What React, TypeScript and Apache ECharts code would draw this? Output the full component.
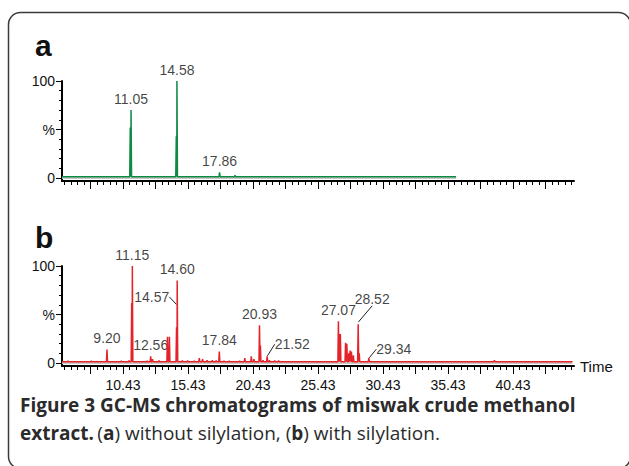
import React, { useEffect, useRef } from "react";
import * as echarts from "echarts";

// ---- axis ----
const X_MIN = 5.74;
const X_MAX = 45.12;
const xTickLabels = ["10.43", "15.43", "20.43", "25.43", "30.43", "35.43", "40.43"];
const yTickLabels = ["0", "%", "100"];
const yLabelValues = [0, 50, 100];
const yTickValues = [0, 10, 20, 30, 40, 50, 60, 70, 80, 90, 100];

// ---- panel a (without silylation) ----
const peakTimesA = [10.99, 11.05, 14.53, 14.58, 17.86, 19.05];
const peakHeightsA = [52, 70, 43, 100, 6, 3];
const runEndA = 36.05;
const labelNamesA = ["11.05", "14.58", "17.86"];
const labelTimesA = [11.05, 14.58, 17.86];
const labelHeightsA = [70, 100, 6];

// ---- panel b (with silylation) ----
const peakTimesB = [6.2, 6.9, 8.0, 9.2, 10.3, 10.9, 11.1, 11.15, 12.3, 12.56, 12.7, 13.2, 13.85, 14.0, 14.55, 14.6, 15.0, 15.4, 15.9, 16.3, 16.55, 16.9, 17.3, 17.6, 17.84, 18.2, 18.6, 19.4, 19.8, 20.3, 20.5, 20.93, 21.0, 21.2, 21.52, 21.7, 22.1, 22.4, 27.0, 27.07, 27.15, 27.55, 27.65, 27.8, 27.9, 28.0, 28.15, 28.52, 28.6, 29.34, 39.0];
const peakHeightsB = [2, 1.5, 2, 14, 2, 2.5, 62, 100, 2, 7, 4, 2.5, 27, 27, 37, 85, 2.5, 2.5, 2, 5, 4, 3, 3, 2.5, 12, 2, 2, 2, 5, 7, 4, 39, 18, 3, 7, 3, 2.5, 2.5, 43, 30, 30, 21, 20, 10, 13, 12, 8, 40, 10, 5, 3];
const runEndB = 45.0;
const labelNamesB = ["9.20", "11.15", "12.56", "14.60", "17.84", "20.93", "27.07"];
const labelTimesB = [9.2, 11.15, 12.56, 14.6, 17.84, 20.93, 27.0];
const labelHeightsB = [14, 100, 7, 85, 12, 39, 43];
const leaderNamesB = ["14.57", "21.52", "28.52", "29.34"];
const leaderTimesB = [14.57, 21.52, 28.52, 29.34];
const leaderHeightsB = [60, 7, 42, 5];

const BASE = 1.5;

const captionLine1 = "{b|Figure 3 GC-MS chromatograms of miswak crude methanol}";
const captionLine2 = "{b|extract.} {n|(}{b|a}{n|) without silylation, (}{b|b}{n|) with silylation.}";

const leaderLayout = [
  { position: "left", dx: -7, dy: -8 },
  { position: "right", dx: 7, dy: -12 },
  { position: "top", dx: 14, dy: -16 },
  { position: "right", dx: 7, dy: -9 },
];

const LABEL_FONT = '"Liberation Sans", Arial, sans-serif';
const CAPTION_FONT = '"Open Sans", "Noto Sans", sans-serif';

function buildTrace(times: number[], heights: number[], start: number, end: number, base: number) {
  const pts: number[][] = [[start, base]];
  times.forEach((t, i) => {
    pts.push([t - 0.04, base], [t, heights[i]], [t + 0.04, base]);
  });
  pts.push([end, base]);
  return pts;
}

function range(a: number, b: number, step: number) {
  const out: number[] = [];
  for (let v = a; v <= b + 1e-9; v += step) out.push(+v.toFixed(2));
  return out;
}

const minorTicks = range(5.93, 44.93, 0.5);
const majorTicks = range(7.93, 42.93, 2.5);
const xLabelValues = xTickLabels.map(Number);

export default function App() {
  const ref = useRef<HTMLDivElement>(null);
  useEffect(() => {
    if (!ref.current) return;
    const chart = echarts.init(ref.current, null, { renderer: "svg" });

    const grids = [
      { left: 62, width: 512, top: 81, height: 100 },
      { left: 62, width: 512, top: 266, height: 100 },
    ];

    const xAxes: any[] = [];
    const yAxes: any[] = [];
    [0, 1].forEach((g) => {
      xAxes.push({
        type: "value", gridIndex: g, min: X_MIN, max: X_MAX, position: "bottom",
        splitLine: { show: false },
        axisLine: { show: true, onZero: false, lineStyle: { color: "#000", width: 2 } },
        axisTick: { show: true, customValues: minorTicks, length: 4, lineStyle: { color: "#000", width: 1 } },
        axisLabel: g === 1
          ? { show: true, customValues: xLabelValues, formatter: (v: number) => v.toFixed(2), margin: 12, fontSize: 14, color: "#111", fontFamily: LABEL_FONT }
          : { show: false },
        name: g === 1 ? "Time" : "",
        nameLocation: "end", nameGap: 6,
        nameTextStyle: { fontSize: 15, color: "#111", fontFamily: LABEL_FONT },
      });
      xAxes.push({
        type: "value", gridIndex: g, min: X_MIN, max: X_MAX, position: "bottom",
        splitLine: { show: false },
        axisLine: { show: false, onZero: false },
        axisTick: { show: true, customValues: majorTicks, length: 8, lineStyle: { color: "#000", width: 1 } },
        axisLabel: { show: false },
      });
      yAxes.push({
        type: "value", gridIndex: g, min: -3, max: 100, position: "left",
        splitLine: { show: false },
        axisLine: { show: true, onZero: false, lineStyle: { color: "#000", width: 2 } },
        axisTick: { show: true, customValues: yTickValues, length: 3, lineStyle: { color: "#000", width: 1 } },
        axisLabel: {
          show: true, customValues: yLabelValues, margin: 7,
          formatter: (v: number) => yTickLabels[yLabelValues.indexOf(v)] ?? "",
          fontSize: 14, color: "#111", fontFamily: LABEL_FONT,
        },
      });
      yAxes.push({
        type: "value", gridIndex: g, min: -3, max: 100, position: "left",
        splitLine: { show: false },
        axisLine: { show: false, onZero: false },
        axisTick: { show: true, customValues: yLabelValues, length: 6, lineStyle: { color: "#000", width: 1 } },
        axisLabel: { show: false },
      });
    });

    const peakLabel = {
      show: true, position: "top", distance: 4, formatter: "{b}",
      fontSize: 14, color: "#111", fontFamily: LABEL_FONT,
    };

    const series: any[] = [
      {
        type: "line", xAxisIndex: 0, yAxisIndex: 0, symbol: "none", silent: true,
        data: [[X_MIN, 0], [runEndA, 0]], lineStyle: { color: "#c8c8c8", width: 2 },
      },
      {
        type: "line", xAxisIndex: 0, yAxisIndex: 0, symbol: "none", silent: true,
        data: buildTrace(peakTimesA, peakHeightsA, X_MIN, runEndA, BASE),
        lineStyle: { color: "#0f8a45", width: 1.5 },
      },
      {
        type: "scatter", xAxisIndex: 0, yAxisIndex: 0, symbolSize: 1,
        itemStyle: { color: "transparent" }, label: peakLabel,
        data: labelTimesA.map((t, i) => ({ name: labelNamesA[i], value: [t, labelHeightsA[i]] })),
      },
      {
        type: "line", xAxisIndex: 2, yAxisIndex: 2, symbol: "none", silent: true,
        data: [[X_MIN, 0], [runEndB, 0]], lineStyle: { color: "#c8c8c8", width: 2 },
      },
      {
        type: "line", xAxisIndex: 2, yAxisIndex: 2, symbol: "none", silent: true,
        data: buildTrace(peakTimesB, peakHeightsB, X_MIN, runEndB, BASE),
        lineStyle: { color: "#e3242b", width: 1.5 },
      },
      {
        type: "scatter", xAxisIndex: 2, yAxisIndex: 2, symbolSize: 1,
        itemStyle: { color: "transparent" }, label: peakLabel,
        data: labelTimesB.map((t, i) => ({ name: labelNamesB[i], value: [t, labelHeightsB[i]] })),
      },
      {
        type: "scatter", xAxisIndex: 2, yAxisIndex: 2, symbolSize: 1,
        itemStyle: { color: "transparent" },
        label: { ...peakLabel, distance: 0 },
        labelLine: { show: true, lineStyle: { color: "#222", width: 1 } },
        labelLayout: (p: any) => ({ dx: leaderLayout[p.dataIndex].dx, dy: leaderLayout[p.dataIndex].dy }),
        data: leaderTimesB.map((t, i) => ({
          name: leaderNamesB[i], value: [t, leaderHeightsB[i]],
          label: { position: leaderLayout[i].position },
        })),
      },
    ];

    const rich = {
      b: { fontFamily: CAPTION_FONT, fontWeight: "bold", fontSize: 19, fill: "#2b2b2b", lineHeight: 20 },
      n: { fontFamily: CAPTION_FONT, fontWeight: "normal", fontSize: 19, fill: "#2b2b2b", lineHeight: 20 },
    };

    chart.setOption({
      animation: false,
      backgroundColor: "#fff",
      grid: grids,
      xAxis: xAxes,
      yAxis: yAxes,
      series,
      graphic: [
        {
          type: "rect", silent: true, z: 0,
          shape: { x: 8.5, y: 12.5, width: 622, height: 456, r: 12 },
          style: { fill: "none", stroke: "#3a3a3a", lineWidth: 1.5 },
        },
        {
          type: "text", x: 35, y: 30,
          style: { text: "a", font: 'bold 30px "Liberation Sans", Arial, sans-serif', fill: "#111" },
        },
        {
          type: "text", x: 35, y: 222,
          style: { text: "b", font: 'bold 30px "Liberation Sans", Arial, sans-serif', fill: "#111" },
        },
        { type: "text", x: 20, y: 395, style: { text: captionLine1, rich } },
        { type: "text", x: 20, y: 423, style: { text: captionLine2, rich } },
      ],
    });
    return () => chart.dispose();
  }, []);
  return <div ref={ref} style={{ position: "absolute", left: 0, top: 0, width: 629, height: 466 }} />;
}
